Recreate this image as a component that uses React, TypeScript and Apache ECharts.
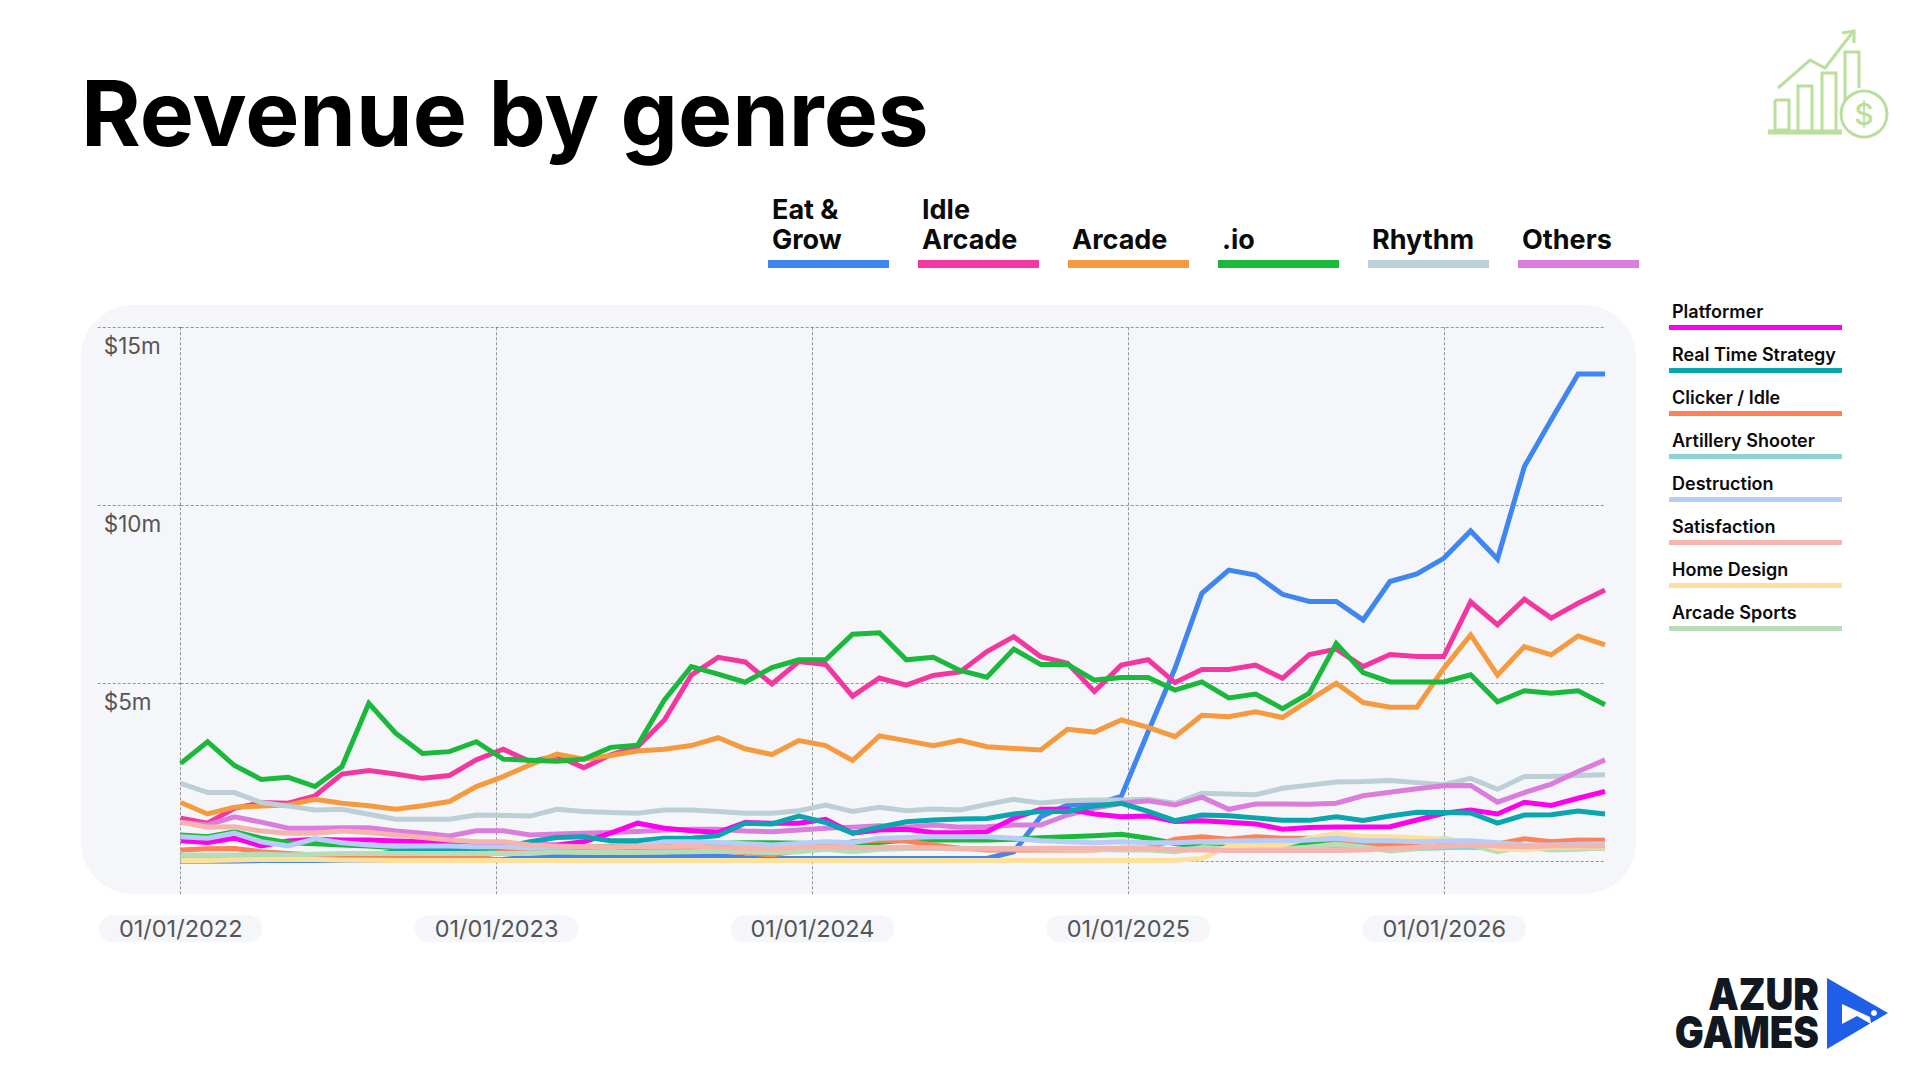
import React, { useEffect, useRef } from "react";
import * as echarts from "echarts";

const POINTS = 54;
const STEP_DAYS = 31;
const DAY = 86400000;
const startDay = new Date(2022, 0, 1).getTime();
const dates = Array.from({ length: POINTS }, (_, i) => startDay + i * STEP_DAYS * DAY);
const tickLabels = ["01/01/2022", "01/01/2023", "01/01/2024", "01/01/2025", "01/01/2026"];
const yearTicks = tickLabels.map((_, k) => startDay + k * 364.4 * DAY);

const eatGrow = [0,0,0,0.02,0.02,0.02,0.03,0.03,0.03,0.03,0.03,0.04,0.05,0.13,0.13,0.13,0.13,0.13,0.13,0.15,0.15,0.1,0.08,0.08,0.08,0.08,0.08,0.08,0.08,0.08,0.08,0.27,1.25,1.58,1.6,1.82,3.64,5.42,7.53,8.18,8.04,7.5,7.3,7.3,6.78,7.86,8.07,8.51,9.28,8.49,11.09,12.4,13.69,13.69];
const idleArcade = [1.21,1.07,1.49,1.65,1.63,1.84,2.45,2.55,2.45,2.33,2.41,2.85,3.15,2.8,2.96,2.63,2.99,3.22,3.97,5.23,5.73,5.6,4.98,5.61,5.53,4.64,5.15,4.95,5.22,5.32,5.89,6.31,5.75,5.56,4.77,5.51,5.66,5.02,5.39,5.39,5.51,5.14,5.81,5.96,5.47,5.81,5.75,5.75,7.29,6.64,7.36,6.83,7.25,7.62];
const arcade = [1.65,1.33,1.52,1.55,1.58,1.74,1.63,1.56,1.46,1.56,1.68,2.1,2.38,2.71,3.01,2.87,2.97,3.1,3.15,3.25,3.47,3.16,3.0,3.39,3.25,2.83,3.52,3.39,3.25,3.4,3.22,3.17,3.13,3.71,3.63,3.97,3.76,3.5,4.1,4.06,4.2,4.04,4.53,5.0,4.46,4.33,4.33,5.42,6.36,5.23,6.03,5.8,6.33,6.08];
const io = [2.75,3.36,2.69,2.3,2.36,2.1,2.66,4.44,3.6,3.03,3.08,3.36,2.87,2.84,2.81,2.87,3.2,3.26,4.53,5.47,5.26,5.03,5.44,5.66,5.66,6.38,6.42,5.66,5.73,5.36,5.17,5.96,5.53,5.53,5.09,5.16,5.16,4.81,5.04,4.59,4.7,4.29,4.72,6.12,5.3,5.04,5.04,5.04,5.24,4.48,4.79,4.72,4.79,4.4];
const rhythm = [2.19,1.93,1.93,1.65,1.55,1.44,1.46,1.32,1.18,1.18,1.18,1.3,1.29,1.27,1.46,1.4,1.37,1.35,1.44,1.44,1.4,1.35,1.35,1.42,1.58,1.4,1.52,1.42,1.47,1.44,1.6,1.74,1.64,1.7,1.72,1.72,1.74,1.63,1.91,1.89,1.87,2.05,2.14,2.23,2.24,2.27,2.21,2.15,2.33,2.02,2.38,2.38,2.41,2.43];
const others = [1.1,1.02,1.25,1.1,0.93,0.93,0.94,0.94,0.85,0.79,0.71,0.86,0.86,0.74,0.77,0.79,0.81,0.84,0.88,0.9,0.9,0.85,0.83,0.88,0.93,0.96,1.0,0.96,1.02,0.96,0.97,1.02,1.02,1.3,1.49,1.63,1.7,1.58,1.8,1.46,1.61,1.61,1.6,1.63,1.84,1.94,2.04,2.12,2.13,1.66,1.93,2.17,2.52,2.85];
const platformer = [0.58,0.53,0.65,0.43,0.57,0.62,0.6,0.6,0.57,0.55,0.49,0.46,0.46,0.46,0.46,0.55,0.79,1.07,0.93,0.86,0.81,1.09,1.07,1.07,1.18,0.79,0.88,0.9,0.81,0.8,0.83,1.21,1.46,1.46,1.33,1.25,1.27,1.12,1.14,1.1,1.05,0.9,0.95,0.96,0.96,0.97,1.16,1.35,1.44,1.33,1.66,1.57,1.77,1.96];
const realTimeStrategy = [0.11,0.11,0.11,0.11,0.12,0.13,0.14,0.18,0.27,0.32,0.35,0.37,0.39,0.55,0.67,0.69,0.58,0.58,0.65,0.65,0.72,1.07,1.05,1.27,1.09,0.79,0.96,1.11,1.16,1.19,1.2,1.33,1.4,1.4,1.55,1.63,1.4,1.14,1.3,1.28,1.22,1.15,1.15,1.25,1.15,1.27,1.38,1.37,1.36,1.07,1.3,1.31,1.41,1.33];
const clickerIdle = [0.32,0.35,0.36,0.27,0.22,0.18,0.13,0.13,0.13,0.13,0.13,0.13,0.27,0.34,0.37,0.37,0.38,0.39,0.39,0.36,0.3,0.24,0.18,0.3,0.38,0.55,0.6,0.57,0.46,0.37,0.32,0.32,0.32,0.32,0.32,0.37,0.37,0.62,0.69,0.62,0.69,0.65,0.65,0.58,0.5,0.46,0.46,0.46,0.49,0.49,0.63,0.55,0.6,0.59];
const artilleryShooter = [0.12,0.12,0.12,0.12,0.14,0.15,0.15,0.16,0.16,0.18,0.2,0.22,0.24,0.27,0.3,0.32,0.33,0.33,0.34,0.34,0.34,0.33,0.32,0.34,0.36,0.33,0.35,0.36,0.36,0.36,0.36,0.36,0.36,0.36,0.35,0.35,0.35,0.33,0.36,0.36,0.36,0.37,0.38,0.38,0.37,0.36,0.36,0.38,0.4,0.36,0.37,0.36,0.37,0.38];
const destruction = [0.69,0.65,0.79,0.55,0.43,0.63,0.52,0.46,0.42,0.43,0.43,0.41,0.41,0.37,0.41,0.41,0.39,0.43,0.55,0.55,0.53,0.49,0.46,0.5,0.55,0.52,0.65,0.67,0.69,0.69,0.69,0.65,0.58,0.55,0.52,0.55,0.52,0.52,0.55,0.57,0.58,0.58,0.6,0.65,0.58,0.58,0.55,0.57,0.58,0.52,0.46,0.46,0.48,0.49];
const satisfaction = [1.1,0.96,0.97,0.85,0.79,0.79,0.85,0.81,0.74,0.67,0.6,0.55,0.55,0.46,0.43,0.41,0.41,0.41,0.41,0.43,0.39,0.37,0.34,0.39,0.41,0.39,0.39,0.39,0.38,0.35,0.35,0.35,0.37,0.37,0.37,0.37,0.37,0.32,0.32,0.3,0.3,0.3,0.3,0.3,0.32,0.36,0.39,0.43,0.45,0.43,0.41,0.43,0.43,0.43];
const homeDesign = [0.02,0.02,0.04,0.05,0.05,0.05,0.04,0.03,0.02,0.02,0.02,0.02,0.02,0.02,0.02,0.02,0.02,0.02,0.02,0.02,0.02,0.02,0.02,0.02,0.02,0.02,0.02,0.02,0.02,0.02,0.02,0.02,0.02,0.02,0.02,0.02,0.02,0.03,0.08,0.43,0.46,0.46,0.65,0.79,0.69,0.69,0.66,0.62,0.55,0.36,0.32,0.4,0.4,0.4];
const arcadeSports = [0.18,0.18,0.18,0.2,0.18,0.2,0.22,0.22,0.22,0.22,0.22,0.22,0.22,0.22,0.27,0.25,0.25,0.25,0.26,0.27,0.29,0.27,0.24,0.27,0.34,0.27,0.34,0.36,0.36,0.36,0.35,0.35,0.34,0.33,0.33,0.32,0.32,0.27,0.39,0.35,0.32,0.33,0.4,0.48,0.4,0.29,0.35,0.65,0.46,0.27,0.41,0.32,0.34,0.38];
const unlisted = [0.74,0.69,0.83,0.65,0.52,0.49,0.46,0.43,0.38,0.37,0.37,0.36,0.35,0.36,0.38,0.4,0.42,0.44,0.46,0.49,0.5,0.52,0.52,0.51,0.5,0.49,0.53,0.6,0.6,0.6,0.6,0.62,0.66,0.69,0.72,0.76,0.65,0.5,0.41,0.4,0.42,0.45,0.5,0.52,0.43,0.41,0.41,0.42,0.4,0.38,0.38,0.38,0.38,0.38];

const drawOrder = [
  { name: "Eat & Grow", data: eatGrow, color: "#3f86f0" },
  { name: "Idle Arcade", data: idleArcade, color: "#f437a0" },
  { name: "Arcade", data: arcade, color: "#f59a3f" },
  { name: ".io", data: io, color: "#1ab83b" },
  { name: "Rhythm", data: rhythm, color: "#bdcfd6" },
  { name: "Others", data: others, color: "#da7ddd" },
  { name: "Platformer", data: platformer, color: "#ff00ee" },
  { name: "Unlisted", data: unlisted, color: "#1ab83b" },
  { name: "Real Time Strategy", data: realTimeStrategy, color: "#0aa6ad" },
  { name: "Artillery Shooter", data: artilleryShooter, color: "#8bd3d3" },
  { name: "Clicker / Idle", data: clickerIdle, color: "#ff8257" },
  { name: "Arcade Sports", data: arcadeSports, color: "#b6dcb8" },
  { name: "Home Design", data: homeDesign, color: "#fde09c" },
  { name: "Destruction", data: destruction, color: "#b5cdf7" },
  { name: "Satisfaction", data: satisfaction, color: "#f5b5ae" },
];

const topLegend = [
  { lines: ["Eat &", "Grow"], color: "#3f86f0" },
  { lines: ["Idle", "Arcade"], color: "#f437a0" },
  { lines: ["Arcade"], color: "#f59a3f" },
  { lines: [".io"], color: "#1ab83b" },
  { lines: ["Rhythm"], color: "#bdcfd6" },
  { lines: ["Others"], color: "#da7ddd" },
];
const sideLegend = [
  { label: "Platformer", color: "#ff00ee" },
  { label: "Real Time Strategy", color: "#0aa6ad" },
  { label: "Clicker / Idle", color: "#ff8257" },
  { label: "Artillery Shooter", color: "#8bd3d3" },
  { label: "Destruction", color: "#b5cdf7" },
  { label: "Satisfaction", color: "#f5b5ae" },
  { label: "Home Design", color: "#fde09c" },
  { label: "Arcade Sports", color: "#b6dcb8" },
];

const FONT = "Inter";
const GRID_DASH = { color: "rgba(70,70,70,0.55)", width: 1, type: [3, 2] as number[] };
const ICON = "#b9df9b";
const PANEL = "#f4f6fa";

function legendGraphics() {
  const items: any[] = [];
  topLegend.forEach((e, i) => {
    const x = 768 + i * 150;
    items.push({ type: "rect", shape: { x, y: 260, width: 121, height: 8 }, style: { fill: e.color } });
    e.lines.forEach((line, j) => {
      const y = 253 - (e.lines.length - 1 - j) * 30.5;
      items.push({
        type: "text", x: x + 4, y,
        style: { text: line, font: `700 27px ${FONT}`, fill: "#0b0b0b", verticalAlign: "bottom" },
      });
    });
  });
  sideLegend.forEach((e, i) => {
    const y = 325 + i * 43;
    items.push({ type: "rect", shape: { x: 1669, y, width: 173, height: 5 }, style: { fill: e.color } });
    items.push({
      type: "text", x: 1672, y: y - 4.5,
      style: { text: e.label, font: `600 18px ${FONT}`, fill: "#0b0b0b", verticalAlign: "bottom" },
    });
  });
  return items;
}

function iconGraphics() {
  const st = { stroke: ICON, fill: "transparent", lineWidth: 3 };
  return [
    { type: "polyline", shape: { points: [[1775, 100], [1775, 130], [1789, 130], [1789, 100], [1775, 100]] }, style: st },
    { type: "polyline", shape: { points: [[1798, 130], [1798, 86], [1812, 86], [1812, 130]] }, style: st },
    { type: "polyline", shape: { points: [[1822, 130], [1822, 73], [1836, 73], [1836, 130]] }, style: st },
    { type: "polyline", shape: { points: [[1845, 100], [1845, 52], [1859, 52], [1859, 88]] }, style: st },
    { type: "polyline", shape: { points: [[1768, 132], [1842, 132]] }, style: { ...st, lineWidth: 5 } },
    { type: "polyline", shape: { points: [[1778, 88], [1810, 60], [1825, 68], [1852, 33]] }, style: st },
    { type: "polyline", shape: { points: [[1842, 33], [1854, 31], [1854, 43]] }, style: st },
    { type: "circle", shape: { cx: 1864, cy: 114, r: 23 }, style: st },
    {
      type: "text", x: 1864, y: 114,
      style: { text: "$", font: `500 30px ${FONT}`, fill: ICON, align: "center", verticalAlign: "middle" },
    },
  ];
}

function logoGraphics() {
  return [
    {
      type: "text", x: 1819, y: 1051, scaleX: 0.875,
      style: { text: "AZUR\nGAMES", font: `900 44px ${FONT}`, lineHeight: 38, fill: "#11181f", align: "right", verticalAlign: "bottom" },
    },
    { type: "polygon", shape: { points: [[1827, 978], [1827, 1049], [1888, 1013]] }, style: { fill: "#1f5fe8" } },
    { type: "polygon", shape: { points: [[1842, 1004], [1870, 1017], [1871, 1024], [1857, 1016], [1842, 1024]] }, style: { fill: "#ffffff" } },
    { type: "circle", shape: { cx: 1874, cy: 1013, r: 3 }, style: { fill: "#ffffff" } },
  ];
}

export default function App() {
  const ref = useRef<HTMLDivElement>(null);
  useEffect(() => {
    if (!ref.current) return;
    const chart = echarts.init(ref.current, undefined, { renderer: "svg" });
    chart.setOption({
      animation: false,
      backgroundColor: "transparent",
      textStyle: { fontFamily: FONT },
      title: {
        text: "Revenue by genres", left: 76, top: 62,
        textStyle: { fontSize: 91, fontWeight: 700, color: "#000", fontFamily: FONT },
      },
      graphic: { elements: [...legendGraphics(), ...iconGraphics(), ...logoGraphics()] },
      grid: { left: 180.7, top: 327.3, width: 1424.3, height: 534, containLabel: false },
      xAxis: {
        type: "value",
        min: dates[0],
        max: dates[POINTS - 1],
        axisLine: { show: false },
        axisTick: { show: true, length: 33, lineStyle: GRID_DASH, customValues: yearTicks },
        splitLine: { show: true, lineStyle: GRID_DASH },
        axisLabel: {
          customValues: yearTicks,
          margin: 54,
          fontSize: 23.5,
          lineHeight: 25,
          color: "#555",
          fontFamily: FONT,
          backgroundColor: PANEL,
          borderRadius: 13.5,
          padding: [1, 20, 1, 20],
          hideOverlap: false,
          formatter: (v: number) => tickLabels[yearTicks.indexOf(v)] ?? "",
        },
      },
      yAxis: {
        type: "value",
        min: 0,
        max: 15,
        interval: 5,
        axisLine: { show: false },
        axisTick: { show: true, length: 85, lineStyle: GRID_DASH },
        splitLine: { show: true, lineStyle: GRID_DASH },
        axisLabel: {
          margin: 77,
          align: "left",
          verticalAlign: "top",
          padding: [7, 0, 0, 0],
          fontSize: 22.5,
          color: "#555",
          fontFamily: FONT,
          showMinLabel: false,
          formatter: (v: number) => (v === 0 ? "" : `$${v}m`),
        },
      },
      series: drawOrder.map((s) => ({
        type: "line",
        name: s.name,
        data: s.data.map((v, i) => [dates[i], v]),
        showSymbol: false,
        symbol: "none",
        smooth: false,
        lineStyle: { color: s.color, width: 5, join: "miter", cap: "butt" },
      })),
    });
    return () => chart.dispose();
  }, []);
  return (
    <div style={{ position: "fixed", left: 0, top: 0, width: 1920, height: 1080, background: "#fff", overflow: "hidden" }}>
      <div style={{ position: "absolute", left: 81, top: 305, width: 1555, height: 589, background: PANEL, borderRadius: 52 }} />
      <div ref={ref} style={{ position: "absolute", left: 0, top: 0, width: 1920, height: 1080 }} />
    </div>
  );
}
